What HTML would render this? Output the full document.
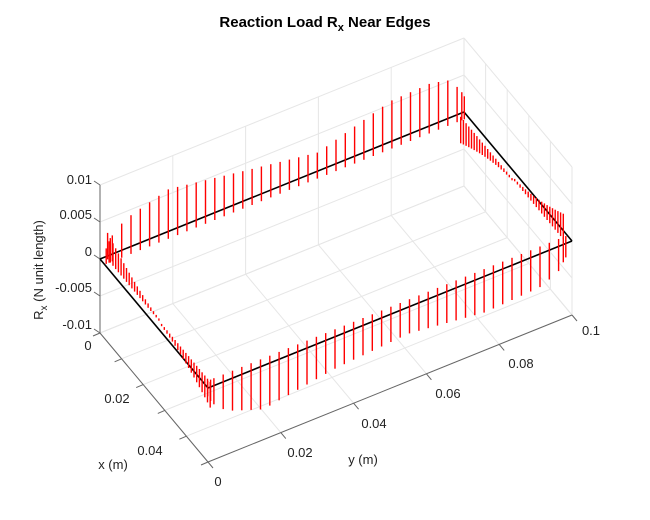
<!DOCTYPE html>
<html><head><meta charset="utf-8"><style>
body{margin:0;background:#fff;}
svg{display:block;font-family:"Liberation Sans",Arial,sans-serif;}
</style></head><body>
<svg id="s" width="650" height="520" viewBox="0 0 650 520" xmlns="http://www.w3.org/2000/svg">
<rect width="650" height="520" fill="#fff"/>
<g id="grid" stroke="#e6e6e6" stroke-width="1" fill="none"></g>
<g id="axes" stroke="#666" stroke-width="1" fill="none"></g>
<g id="black" stroke="#000" stroke-width="1.6" fill="none"></g>
<g id="red" stroke="#ff0000" stroke-width="1.4"></g>
<g font-size="13" fill="#222">
<text x="325" y="27" text-anchor="middle" font-weight="bold" font-size="15" fill="#000">Reaction Load R<tspan font-size="11" dy="4">x</tspan><tspan dy="-4"> Near Edges</tspan></text>
<text x="92" y="184" text-anchor="end">0.01</text>
<text x="92" y="219" text-anchor="end">0.005</text>
<text x="92" y="256" text-anchor="end">0</text>
<text x="92" y="292" text-anchor="end">-0.005</text>
<text x="92" y="329" text-anchor="end">-0.01</text>
<text x="88" y="350" text-anchor="middle">0</text>
<text x="117" y="403" text-anchor="middle">0.02</text>
<text x="150" y="455" text-anchor="middle">0.04</text>
<text x="113" y="469" text-anchor="middle">x (m)</text>
<text x="218" y="486" text-anchor="middle">0</text>
<text x="300" y="457" text-anchor="middle">0.02</text>
<text x="374" y="428" text-anchor="middle">0.04</text>
<text x="448" y="398" text-anchor="middle">0.06</text>
<text x="521" y="368" text-anchor="middle">0.08</text>
<text x="591" y="335" text-anchor="middle">0.1</text>
<text x="363" y="464" text-anchor="middle">y (m)</text>
<text transform="translate(43,270) rotate(-90)" text-anchor="middle">R<tspan font-size="10" dy="4">x</tspan><tspan dy="-4"> (N unit length)</tspan></text>
</g>
</svg>
<script>
var O=[100,259],EX=[108/0.05,129/0.05],EY=[364/0.1,-147/0.1],EZ=[0,-74/0.01];
function P(x,y,z){return [O[0]+x*EX[0]+y*EY[0]+z*EZ[0],O[1]+x*EX[1]+y*EY[1]+z*EZ[1]];}
var NS="http://www.w3.org/2000/svg";
function L(g,a,b){var l=document.createElementNS(NS,"line");l.setAttribute("x1",a[0].toFixed(1));l.setAttribute("y1",a[1].toFixed(1));l.setAttribute("x2",b[0].toFixed(1));l.setAttribute("y2",b[1].toFixed(1));document.getElementById(g).appendChild(l);}
var zs=[-0.01,-0.005,0,0.005,0.01],ys=[0,0.02,0.04,0.06,0.08,0.1],xs=[0,0.01,0.02,0.03,0.04,0.05];
zs.forEach(function(z){L("grid",P(0,0,z),P(0,0.1,z));});
ys.forEach(function(y){L("grid",P(0,y,-0.01),P(0,y,0.01));});
zs.forEach(function(z){L("grid",P(0,0.1,z),P(0.05,0.1,z));});
xs.forEach(function(x){L("grid",P(x,0.1,-0.01),P(x,0.1,0.01));});
xs.forEach(function(x){L("grid",P(x,0,-0.01),P(x,0.1,-0.01));});
ys.forEach(function(y){L("grid",P(0,y,-0.01),P(0.05,y,-0.01));});
L("axes",P(0,0,-0.01),P(0,0,0.01));
L("axes",P(0,0,-0.01),P(0.05,0,-0.01));
L("axes",P(0.05,0,-0.01),P(0.05,0.1,-0.01));
zs.forEach(function(z){var a=P(0,0,z);L("axes",a,[a[0]-6,a[1]-4]);});
xs.forEach(function(x){var a=P(x,0,-0.01);L("axes",a,[a[0]-7,a[1]+3]);});
ys.forEach(function(y){var a=P(0.05,y,-0.01);L("axes",a,[a[0]+5,a[1]+6]);});
L("black",P(0,0,0),P(0.05,0,0));L("black",P(0.05,0,0),P(0.05,0.1,0));
L("black",P(0.05,0.1,0),P(0,0.1,0));L("black",P(0,0.1,0),P(0,0,0));
var pts=[[0,0.001],[0.002,0.003],[0.006,0.0047],[0.018,0.0064],[0.038,0.0048],[0.059,0.0032],[0.079,0.0062],[0.09,0.0064],[0.095,0.0058],[0.098,0.004],[0.1,0.002]];
function interp(p,y){for(var i=1;i<p.length;i++){if(y<=p[i][0]){var a=p[i-1],b=p[i];return a[1]+(b[1]-a[1])*(y-a[0])/(b[0]-a[0]);}}return p[p.length-1][1];}
var fp=[[0,0.001],[0.002,0.003],[0.006,0.0048],[0.016,0.0066],[0.036,0.005],[0.056,0.0043],[0.077,0.0056],[0.092,0.0052],[0.097,0.0042],[0.1,0.002]];
var yv=[0.0008,0.0016];for(var y=0.0025;y<0.0985;y+=0.00256)yv.push(y);yv.push(0.0985,0.0992);
yv.forEach(function(y){
 L("red",P(0.0015,y,-0.0003),P(0.0015,y,interp(pts,y)));
 L("red",P(0.0485,y,0.0003),P(0.0485,y,-interp(fp,y)));
});
function g(x){var t=1-2*x/0.05;return 0.0035*Math.sign(t)*Math.pow(Math.abs(t),1.6);}
for(var x=0.001;x<0.0495;x+=0.00125){
 var v=g(x);
 L("red",P(x,0.0015,0),P(x,0.0015,v+(v>=0?0.0003:-0.0003)));
 L("red",P(x,0.0985,0),P(x,0.0985,-v+(-v>=0?0.0003:-0.0003)));
}
</script>
</body></html>
